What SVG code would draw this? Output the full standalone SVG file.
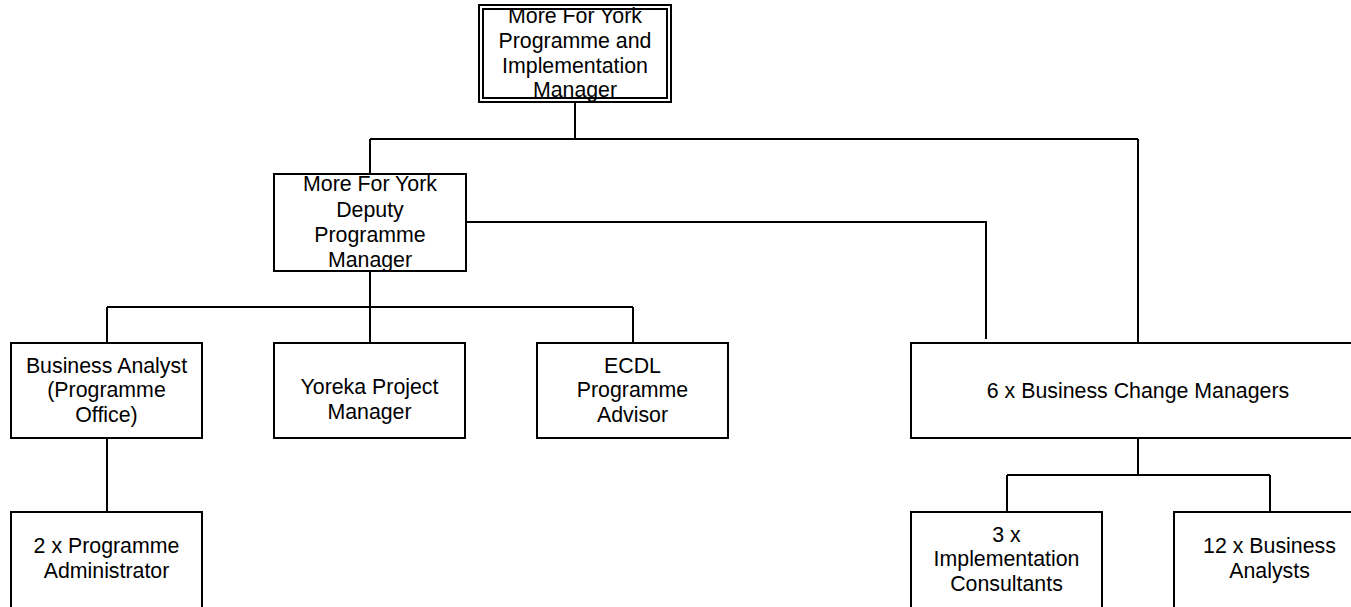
<svg xmlns="http://www.w3.org/2000/svg" width="1351" height="607" viewBox="0 0 1351 607">
<style>
.box{fill:#fff;stroke:#000;stroke-width:2}
.edge{fill:none;stroke:#000;stroke-width:2}
.con{fill:none;stroke:#000;stroke-width:2}
text{font-family:"Liberation Sans",Arial,sans-serif;font-size:21.33px;fill:#000;text-anchor:middle}
</style>
<rect width="1351" height="607" fill="#fff"/>
<g id="connectors">
<path class="con" d="M575,102 V139 M370,139 H1138 M370,139 V174 M1138,139 V343"/>
<path class="con" d="M466,222 H986 V339"/>
<path class="con" d="M370,271 V307 M107,307 H633 M107,307 V343 M370,307 V343 M633,307 V343"/>
<path class="con" d="M107,438 V512"/>
<path class="con" d="M1138,438 V475 M1007,475 H1270 M1007,475 V512 M1270,475 V512"/>
</g>
<g id="n-top">
<rect class="box" x="479" y="5" width="192" height="97"/>
<text x="575" y="23">More For York</text>
<text x="575" y="48">Programme and</text>
<text x="575" y="73">Implementation</text>
<text x="575" y="97">Manager</text>
<rect class="edge" x="479" y="5" width="192" height="97"/>
<rect class="edge" x="483" y="9" width="184" height="89"/>
</g>
<g id="n-deputy">
<rect class="box" x="274" y="174" width="192" height="97"/>
<text x="370" y="191">More For York</text>
<text x="370" y="217">Deputy</text>
<text x="370" y="242">Programme</text>
<text x="370" y="267">Manager</text>
<rect class="edge" x="274" y="174" width="192" height="97"/>
</g>
<g id="n-ba">
<rect class="box" x="11" y="343" width="191" height="95"/>
<text x="106.5" y="373">Business Analyst</text>
<text x="106.5" y="397">(Programme</text>
<text x="106.5" y="422">Office)</text>
</g>
<g id="n-yoreka">
<rect class="box" x="274" y="343" width="191" height="95"/>
<text x="369.5" y="394">Yoreka Project</text>
<text x="369.5" y="419">Manager</text>
</g>
<g id="n-ecdl">
<rect class="box" x="537" y="343" width="191" height="95"/>
<text x="632.5" y="373">ECDL</text>
<text x="632.5" y="397">Programme</text>
<text x="632.5" y="422">Advisor</text>
</g>
<g id="n-bcm">
<rect class="box" x="911" y="343" width="454" height="95"/>
<text x="1138" y="398">6 x Business Change Managers</text>
</g>
<g id="n-admin">
<rect class="box" x="11" y="512" width="191" height="110"/>
<text x="106.5" y="553">2 x Programme</text>
<text x="106.5" y="578">Administrator</text>
</g>
<g id="n-impl">
<rect class="box" x="911" y="512" width="191" height="110"/>
<text x="1006.5" y="542">3 x</text>
<text x="1006.5" y="566">Implementation</text>
<text x="1006.5" y="591">Consultants</text>
</g>
<g id="n-analysts">
<rect class="box" x="1174" y="512" width="191" height="110"/>
<text x="1269.5" y="553">12 x Business</text>
<text x="1269.5" y="578">Analysts</text>
</g>
</svg>
